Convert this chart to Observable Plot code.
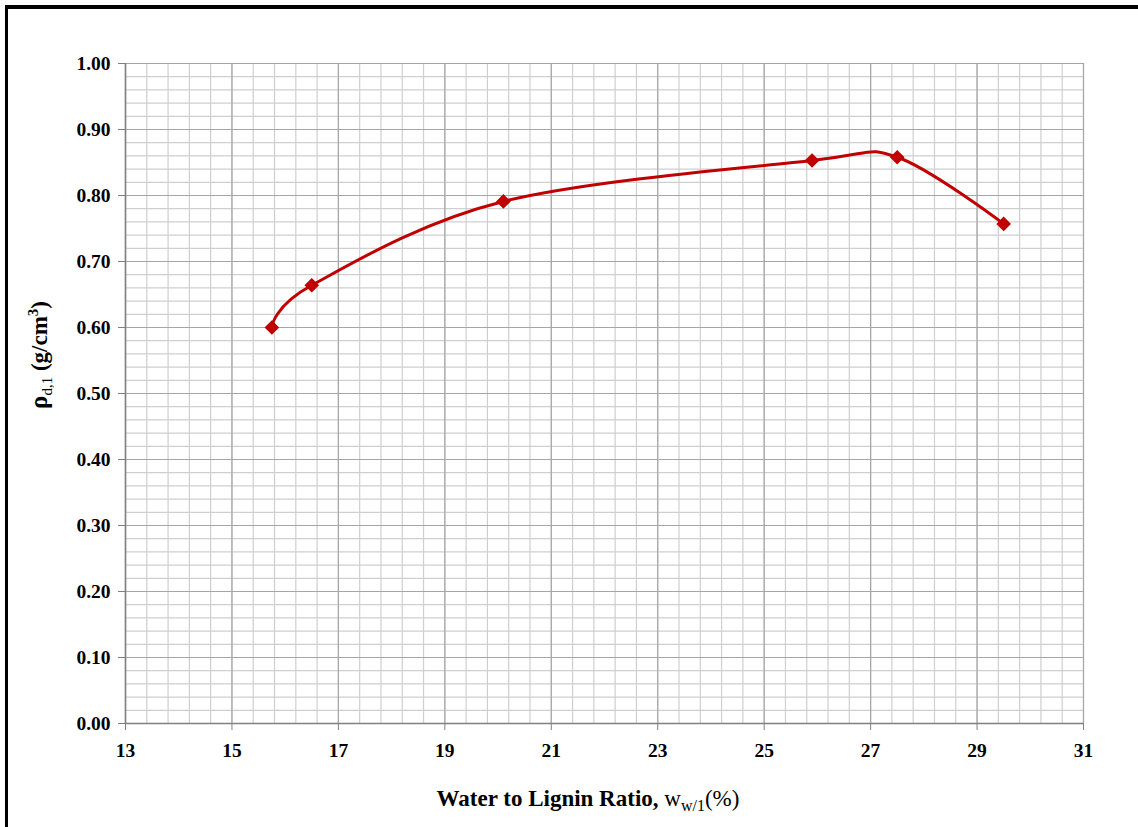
<!DOCTYPE html>
<html>
<head>
<meta charset="utf-8">
<script src="https://cdn.jsdelivr.net/npm/d3@7"></script>
<script src="https://cdn.jsdelivr.net/npm/@observablehq/plot@0.6"></script>
<style>
  html, body { margin: 0; padding: 0; background: #fff; overflow: hidden; }
  #wrap { position: relative; width: 1138px; height: 827px; }
  #frame {
    position: absolute; left: 5px; top: 5px; width: 1400px; height: 1100px;
    border-left: 3.5px solid #000; border-top: 4px solid #000;
    box-shadow: 1px 1px 0 #999;
  }
  #chart { position: absolute; left: 0; top: 0; }
</style>
</head>
<body>
<div id="wrap">
  <div id="frame"></div>
  <div id="chart"></div>
</div>
<script>
// Measured dry density against water-to-lignin ratio
const waterRatio = [15.75, 16.5, 20.1, 25.9, 27.5, 29.5];
const density    = [0.600, 0.664, 0.791, 0.853, 0.858, 0.757];

// Axis ticks
const xTicks = [13, 15, 17, 19, 21, 23, 25, 27, 29, 31];
const yTicks = [0, 0.1, 0.2, 0.3, 0.4, 0.5, 0.6, 0.7, 0.8, 0.9, 1.0];

const points = waterRatio.map((w, i) => ({w, rho: density[i]}));

// Fine grid: five divisions between each labelled tick
const minorX = d3.range(0, 46).map(i => 13 + i * 0.4);
const minorY = d3.range(0, 51).map(i => i * 0.02);

const red = "#c00000";
const font = "'Liberation Serif', 'Times New Roman', serif";

const chart = Plot.plot({
  width: 1138,
  height: 827,
  marginLeft: 125,
  marginRight: 55,
  marginTop: 63,
  marginBottom: 104,
  style: {fontFamily: font, background: "transparent", overflow: "visible"},
  x: {domain: [13, 31]},
  y: {domain: [0, 1]},
  marks: [
    Plot.ruleX(minorX, {stroke: "#cfcfcf", strokeWidth: 1.2}),
    Plot.ruleY(minorY, {stroke: "#cfcfcf", strokeWidth: 1.2}),
    Plot.ruleX(xTicks, {stroke: "#a6a6a6", strokeWidth: 1.2}),
    Plot.ruleY(yTicks, {stroke: "#a6a6a6", strokeWidth: 1.2}),
    Plot.ruleX([13], {stroke: "#808080", strokeWidth: 1.5}),
    Plot.ruleY([0], {stroke: "#808080", strokeWidth: 1.5}),
    Plot.axisX(xTicks, {
      tickSize: 7, tickPadding: 13, stroke: "#808080",
      tickFormat: d => String(d), fontSize: 19.5, fontWeight: "bold", fill: "#000", label: null
    }),
    Plot.axisY(yTicks, {
      tickSize: 7, tickPadding: 8, stroke: "#808080",
      tickFormat: d3.format(".2f"), fontSize: 19.5, fontWeight: "bold", fill: "#000", label: null
    }),
    Plot.line(points, {x: "w", y: "rho", curve: "cardinal", tension: 0, stroke: red, strokeWidth: 3}),
    Plot.dot(points, {x: "w", y: "rho", symbol: "square", rotate: 45, r: 5, fill: red, stroke: red})
  ]
});

const svg = d3.select(chart);

// X axis title with subscript
const xt = svg.append("text")
  .attr("x", 588).attr("y", 806)
  .attr("text-anchor", "middle")
  .attr("font-family", font).attr("font-size", 23).attr("fill", "#000");
xt.append("tspan").attr("font-weight", "bold").text("Water to Lignin Ratio, ");
xt.append("tspan").text("w");
xt.append("tspan").attr("font-size", 16).attr("dy", 5).text("w/1");
xt.append("tspan").attr("dy", -5).text("(%)");

// Y axis title with subscript and superscript
const yt = svg.append("text")
  .attr("transform", "translate(47,355) rotate(-90)")
  .attr("text-anchor", "middle")
  .attr("font-family", font).attr("font-size", 23).attr("font-weight", "bold").attr("fill", "#000");
yt.append("tspan").attr("font-size", 25).text("ρ");
yt.append("tspan").attr("font-size", 15).attr("font-weight", "normal").attr("dy", 5).text("d,1");
yt.append("tspan").attr("dy", -5).text(" (g/cm");
yt.append("tspan").attr("font-size", 15).attr("dy", -9).text("3");
yt.append("tspan").attr("dy", 9).text(")");

document.getElementById("chart").append(chart);
</script>
</body>
</html>
